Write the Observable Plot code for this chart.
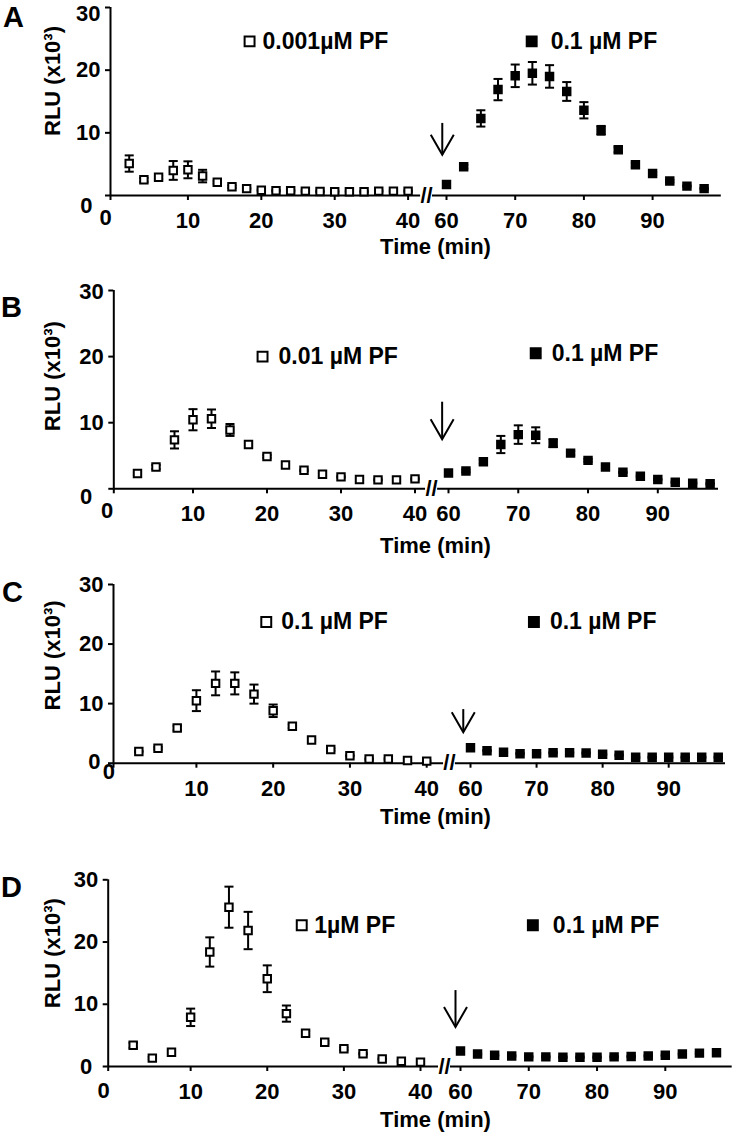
<!DOCTYPE html>
<html>
<head>
<meta charset="utf-8">
<script src="https://cdn.jsdelivr.net/npm/d3@7"></script>
<script src="https://cdn.jsdelivr.net/npm/@observablehq/plot@0.6"></script>
<style>
  html, body { margin: 0; padding: 0; background: #fff; }
  #wrap { position: relative; width: 738px; height: 1136px; overflow: hidden;
          font-family: "Liberation Sans", Arial, sans-serif; font-weight: bold; color: #000; }
  .panel { position: absolute; left: 0; }
  .letter { position: absolute; font-size: 29px; line-height: 29px; font-weight: bold; }
</style>
</head>
<body>
<div id="wrap"></div>
<script>
// ---------- data (RLU x10^3) ----------
const tEvery2  = [2,4,6,8,10,12,14,16,18,20,22,24,26,28,30,32,34,36,38,40];
const tEvery25 = [2.5,5,7.5,10,12.5,15,17.5,20,22.5,25,27.5,30,32.5,35,37.5,40];
const tLate    = [60,62.5,65,67.5,70,72.5,75,77.5,80,82.5,85,87.5,90,92.5,95,97.5];

const rluA1 = [5.1,2.5,2.9,4.0,4.1,3.1,2.1,1.4,1.1,0.85,0.75,0.75,0.7,0.65,0.6,0.6,0.6,0.7,0.7,0.7];
const semA1 = [1.3,0.3,0.3,1.5,1.35,1.0,0.2,0.2,0.1,0.1,0.1,0.1,0.1,0.1,0.1,0.1,0.1,0.1,0.1,0.1];
const rluA2 = [1.75,4.6,12.3,16.9,19.1,19.5,19.0,16.6,13.6,10.4,7.3,4.9,3.5,2.3,1.5,1.1];
const semA2 = [0.2,0.3,1.3,1.7,1.8,1.8,1.8,1.5,1.3,0.7,0.4,0.3,0.2,0.2,0.1,0.1];

const rluB1 = [2.3,3.3,7.4,10.45,10.6,8.9,6.7,4.9,3.6,2.8,2.2,1.8,1.4,1.35,1.35,1.5];
const semB1 = [0.2,0.3,1.3,1.6,1.4,0.9,0.3,0.2,0.2,0.1,0.1,0.1,0.1,0.1,0.1,0.1];
const rluB2 = [2.4,2.7,4.1,6.7,8.2,8.1,6.9,5.4,4.3,3.3,2.5,1.9,1.4,1.0,0.85,0.75];
const semB2 = [0.2,0.2,0.3,1.3,1.4,1.2,0.6,0.3,0.2,0.2,0.1,0.1,0.1,0.1,0.1,0.1];

const rluC1 = [1.95,2.5,5.9,10.5,13.4,13.4,11.6,8.8,6.2,3.9,2.3,1.25,0.7,0.7,0.45,0.35];
const semC1 = [0.1,0.2,0.4,1.75,2.0,1.85,1.6,1.05,0.3,0.2,0.2,0.1,0.1,0.1,0.1,0.1];
const rluC2 = [2.6,2.1,1.85,1.6,1.6,1.75,1.75,1.7,1.5,1.35,1.0,1.0,1.0,1.0,1.0,1.0];
const semC2 = [0.1,0.1,0.1,0.1,0.1,0.1,0.1,0.1,0.1,0.1,0.1,0.1,0.1,0.1,0.1,0.1];

const rluD1 = [3.4,1.35,2.3,7.9,18.4,25.6,21.85,14.1,8.5,5.35,3.9,2.85,2.05,1.2,0.85,0.7];
const semD1 = [0.4,0.2,0.2,1.4,2.35,3.3,3.0,2.15,1.3,0.4,0.2,0.2,0.1,0.1,0.1,0.1];
const rluD2 = [2.5,2.0,1.8,1.7,1.55,1.55,1.5,1.5,1.5,1.55,1.6,1.7,1.8,2.0,2.15,2.2];
const semD2 = [0.1,0.1,0.1,0.1,0.1,0.1,0.1,0.1,0.1,0.1,0.1,0.1,0.1,0.1,0.1,0.1];

const panelLetters = ["A","B","C","D"];
const legendEarly  = ["0.001µM PF","0.01 µM PF","0.1 µM PF","1µM PF"];
const legendLate   = ["0.1 µM PF","0.1 µM PF","0.1 µM PF","0.1 µM PF"];
const xTicks = [10,20,30,40,60,70,80,90];
const yTicks = [0,10,20,30];
const yLabel = "RLU (x10³)";
const xLabel = "Time (min)";

// ---------- layout (pixels / annotation placement) ----------
const layout = [
  {top:0,   height:265, y30:7,     y0:195,   xd:[-0.55,40,60,100],  xr:[110,407.6,446,720.8],
   gap:[46.5,52.7], slash:49.6, arrowX:57.8, arrowY:[11.5,6.5], y30dy:6,
   legE:[18.4,24.6,13], legL:[72.4,24.6,19], x0:[-5,22], y0l:[-18,10], ylabDy:-20.5, timeDy:51, letter:[3,2.8]},
  {top:268, height:290, y30:290,   y0:488.3, xd:[-0.7,40,60,98.7],  xr:[113.3,414.5,448,718],
   gap:[46.3,53.5], slash:49.9, arrowX:56.2, arrowY:[13.1,7.5], y30dy:1,
   legE:[19.4,20.0,16], legL:[72.5,20.5,16], x0:[-6.6,22], y0l:[-21.6,8.4], ylabDy:-13.5, timeDy:57, letter:[1,292.5]},
  {top:560, height:270, y30:584,   y0:762.7, xd:[-0.8,40,60,98.6],  xr:[113,426.2,470,725],
   gap:[47.7,53.1], slash:50.4, arrowX:56.7, arrowY:[9.0,5.2], y30dy:0,
   legE:[19.1,23.7,15], legL:[69.6,23.7,16], x0:[-4.7,9], y0l:[-13,-1], ylabDy:-18.4, timeDy:54, letter:[2,577.5]},
  {top:840, height:296, y30:879.3, y0:1066,  xd:[-0.76,40,60,99.8], xr:[107.7,420,460,731.7],
   gap:[49,55], slash:52, arrowX:57.5, arrowY:[12.2,6.35], y30dy:0,
   legE:[24.5,22.7,12.5], legL:[70.6,22.7,20], x0:[-4.7,24], y0l:[-16,0.7], ylabDy:-20, timeDy:53, letter:[1,872.5]}
];

const series = [
  {early:[tEvery2, rluA1, semA1],  late:[tLate, rluA2, semA2]},
  {early:[tEvery25, rluB1, semB1], late:[tLate, rluB2, semB2]},
  {early:[tEvery25, rluC1, semC1], late:[tLate, rluC2, semC2]},
  {early:[tEvery25, rluD1, semD1], late:[tLate, rluD2, semD2]}
];

const toRows = ([t, v, e]) => t.map((tt, i) => ({t: tt, v: v[i], e: e[i]}));

// horizontal cap symbol for error bars
const hbar = { draw(ctx, size) { const w = Math.sqrt(size) / 2; ctx.moveTo(-w, 0); ctx.lineTo(w, 0); } };
// open V arrowhead symbol, tip at the point
const vHead = { draw(ctx) { ctx.moveTo(-11.5, -20); ctx.lineTo(0, 0); ctx.lineTo(11.5, -20); } };

const W = 738;
const wrap = document.getElementById("wrap");

layout.forEach((L, k) => {
  const early = toRows(series[k].early);
  const late = toRows(series[k].late);
  const rows = early.concat(late);
  const mTop = L.y30 - L.top;
  const yBottom = L.y0 - L.top;
  const mLeft = L.xr[0];
  const mRight = W - L.xr[3];
  const mBottom = L.height - yBottom;
  const frameCx = (mLeft + W - mRight) / 2;
  const xmin = L.xd[0], xmax = L.xd[3];
  const yTop = yTicks[yTicks.length - 1];

  const chart = Plot.plot({
    width: W,
    height: L.height,
    marginTop: mTop, marginBottom: mBottom, marginLeft: mLeft, marginRight: mRight,
    style: {background: "transparent", overflow: "visible", fontFamily: "'Liberation Sans', Arial, sans-serif",
            fontSize: "22px", fontWeight: "bold", color: "black"},
    x: {type: "linear", domain: L.xd, range: L.xr},
    y: {type: "linear", domain: [0, 30], range: [yBottom, mTop]},
    marks: [
      // axes lines
      Plot.ruleY([0], {x1: xmin, x2: L.gap[0], stroke: "black", strokeWidth: 2}),
      Plot.ruleY([0], {x1: L.gap[1], x2: xmax, stroke: "black", strokeWidth: 2}),
      Plot.ruleX([xmin], {y1: 0, y2: 30, stroke: "black", strokeWidth: 2}),
      Plot.text(["//"], {x: L.slash, y: 0, text: d => d, fontSize: 22, fontWeight: "bold", textAnchor: "middle", lineAnchor: "middle"}),
      Plot.axisX({ticks: [xmin, ...xTicks], tickFormat: d => (d < 1 ? "" : String(d)), tickSize: 5, tickPadding: 12,
                  strokeWidth: 2, label: null}),
      Plot.axisY({ticks: yTicks, tickFormat: d => (d === 0 || d === yTop ? "" : String(d)), tickSize: 5, tickPadding: 5,
                  strokeWidth: 2, label: null}),
      // top tick label (shifted like the original) and offset "0" labels (GraphPad style)
      Plot.text([String(yTop)], {x: xmin, y: yTop, text: d => d, dx: -10, dy: L.y30dy, textAnchor: "end", lineAnchor: "middle"}),
      Plot.text(["0"], {x: xmin, y: 0, text: d => d, dx: L.x0[0], dy: L.x0[1], textAnchor: "middle", lineAnchor: "middle"}),
      Plot.text(["0"], {x: xmin, y: 0, text: d => d, dx: L.y0l[0], dy: L.y0l[1], textAnchor: "end", lineAnchor: "middle"}),
      // axis titles
      Plot.text([yLabel], {frameAnchor: "left", text: d => d, rotate: -90, dx: 52 - mLeft, dy: L.ylabDy,
                           textAnchor: "middle", lineAnchor: "middle"}),
      Plot.text([xLabel], {frameAnchor: "bottom", text: d => d, dx: 435 - frameCx, dy: L.timeDy,
                           textAnchor: "middle", lineAnchor: "middle"}),
      // error bars
      Plot.ruleX(rows, {x: "t", y1: d => d.v - d.e, y2: d => d.v + d.e, stroke: "black", strokeWidth: 2}),
      Plot.dot(rows, {x: "t", y: d => d.v + d.e, symbol: hbar, r: 5.1, fill: "none", stroke: "black", strokeWidth: 2}),
      Plot.dot(rows, {x: "t", y: d => d.v - d.e, symbol: hbar, r: 5.1, fill: "none", stroke: "black", strokeWidth: 2}),
      // points
      Plot.dot(early, {x: "t", y: "v", symbol: "square", r: 4.2, fill: "white", stroke: "black", strokeWidth: 2}),
      Plot.dot(late, {x: "t", y: "v", symbol: "square", r: 4.2, fill: "black", stroke: "black", strokeWidth: 2}),
      // legend
      Plot.dot([0], {x: L.legE[0], y: L.legE[1], symbol: "square", r: 5.6, fill: "white", stroke: "black", strokeWidth: 2}),
      Plot.text([legendEarly[k]], {x: L.legE[0], y: L.legE[1], text: d => d, dx: L.legE[2], fontSize: 23,
                                   textAnchor: "start", lineAnchor: "middle"}),
      Plot.dot([0], {x: L.legL[0], y: L.legL[1], symbol: "square", r: 5.6, fill: "black", stroke: "black", strokeWidth: 2}),
      Plot.text([legendLate[k]], {x: L.legL[0], y: L.legL[1], text: d => d, dx: L.legL[2], fontSize: 23,
                                  textAnchor: "start", lineAnchor: "middle"}),
      // dose arrow: shaft + open V head
      Plot.ruleX([L.arrowX], {y1: L.arrowY[1], y2: L.arrowY[0], stroke: "black", strokeWidth: 2}),
      Plot.dot([0], {x: L.arrowX, y: L.arrowY[1], symbol: vHead, fill: "none", stroke: "black", strokeWidth: 2})
    ]
  });
  const holder = document.createElement("div");
  holder.className = "panel";
  holder.style.top = L.top + "px";
  holder.appendChild(chart);
  wrap.appendChild(holder);

  const letter = document.createElement("div");
  letter.className = "letter";
  letter.style.left = L.letter[0] + "px";
  letter.style.top = L.letter[1] + "px";
  letter.textContent = panelLetters[k];
  wrap.appendChild(letter);
});
</script>
</body>
</html>
